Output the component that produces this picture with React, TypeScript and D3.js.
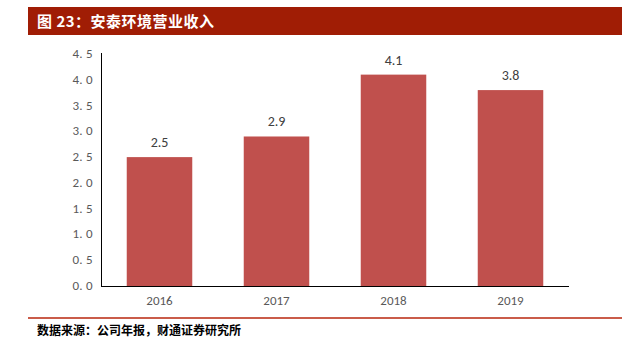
import React from "react";
import * as d3 from "d3";

const categories = ["2016", "2017", "2018", "2019"];
const values = [2.5, 2.9, 4.1, 3.8];
const yTicks = [0, 0.5, 1.0, 1.5, 2.0, 2.5, 3.0, 3.5, 4.0, 4.5];
const title = "图 23：安泰环境营业收入";
const source = "数据来源：公司年报，财通证券研究所";

export default function App() {
  const W = 635, H = 355;
  const x = d3.scaleBand<string>().domain(categories).range([101, 569]).paddingInner(0.44).paddingOuter(0.22);
  const y = d3.scaleLinear().domain([0, 4.5]).range([286, 54]);
  const cjk = "'Noto Sans CJK SC', sans-serif";
  const lat = "Calibri, Carlito, 'Liberation Sans', Arial, sans-serif";
  return (
    <svg width={W} height={H} style={{ position: "absolute", left: 0, top: 0 }}>
      <rect x={0} y={0} width={W} height={H} fill="#fff" />
      <rect x={28} y={7} width={594} height={28} fill="#A01D05" />
      <text x={37} y={27} fill="#fff" fontFamily={cjk} fontWeight="bold" fontSize={15} letterSpacing={0.5}>{title}</text>
      {categories.map((c, i) => (
        <g key={c}>
          <rect x={x(c)} y={y(values[i])} width={x.bandwidth()} height={y(0) - y(values[i])} fill="#C0504D" />
          <text x={(x(c) as number) + x.bandwidth() / 2} y={y(values[i]) - 10} textAnchor="middle" fontFamily={lat} fontSize={14} fill="#404040">{values[i].toFixed(1)}</text>
          <text x={(x(c) as number) + x.bandwidth() / 2} y={305} textAnchor="middle" fontFamily={lat} fontSize={13} fill="#595959">{c}</text>
        </g>
      ))}
      {yTicks.map((t) => (
        <text key={t} x={93} y={y(t) + 4} textAnchor="end" fontFamily={lat} fontSize={13} fill="#595959" letterSpacing={0.3}>{t.toFixed(1).replace(".", ". ")}</text>
      ))}
      <line x1={101.5} y1={53} x2={101.5} y2={286.5} stroke="#000" strokeWidth={1} />
      <line x1={101} y1={286.5} x2={569} y2={286.5} stroke="#000" strokeWidth={1} />
      <line x1={28} y1={318} x2={622} y2={318} stroke="#B8260E" strokeWidth={1.5} />
      <text x={37} y={335} fill="#000" fontFamily={cjk} fontWeight="bold" fontSize={12}>{source}</text>
    </svg>
  );
}
